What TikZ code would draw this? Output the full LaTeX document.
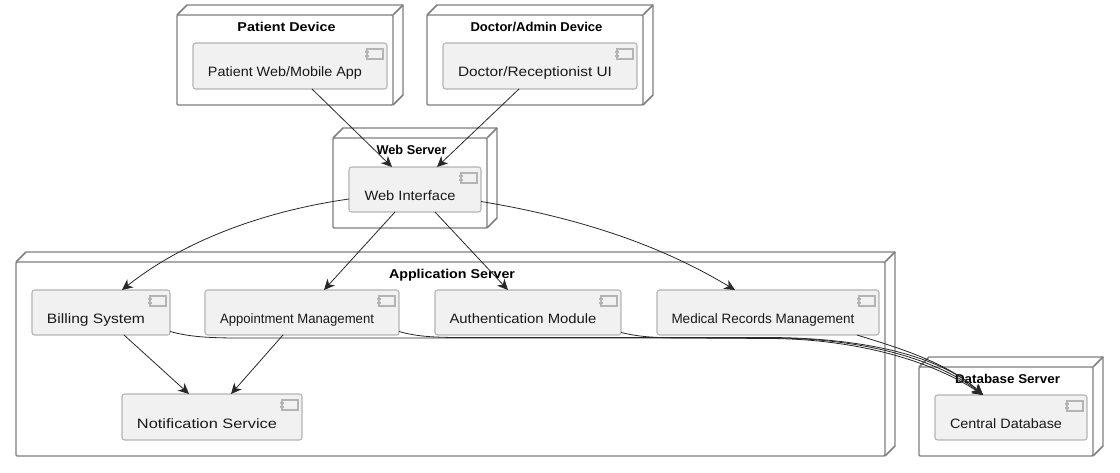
\documentclass[tikz,border=0pt]{standalone}
\usepackage{fontspec}
\setmainfont{Liberation Sans}
\usepackage{xcolor}
\usepackage{tikz}
\usetikzlibrary{calc,arrows.meta}
\definecolor{mfill}{HTML}{F1F1F1}
\definecolor{mline}{HTML}{7F7F7F}
\definecolor{mcomp}{HTML}{B4B4B4}
\definecolor{marrow}{HTML}{282828}
\newdimen\px
\px=.75pt
\tikzset{
    devbox/.style={draw=mline, line width=1.1pt, rounded corners=.8pt, outer sep=0pt, inner sep=0pt},
    devedge/.style={draw=mline, line width=1.1pt, line join=round},
    devtitle/.style={font=\bfseries\fontsize{9.6}{11}\selectfont, anchor=base, inner sep=0pt, text=black},
    compbox/.style={draw=mcomp, fill=mfill, line width=.8pt, rounded corners=2pt, outer sep=0pt, inner sep=0pt},
    complabel/.style={font=\fontsize{10.2}{12}\selectfont, anchor=base, inner sep=0pt, text=black!90},
    conn/.style={draw=marrow, line width=.6pt, -{Stealth[length=8pt,width=7.5pt,inset=2.4pt]}},
}
\newcommand{\devnode}[7]{
    \node[devbox, minimum width={(#4-#2)*.75pt}, minimum height={(#5-#3)*.75pt}] (#1) at ({(#2+#4)/2},{(#3+#5)/2}) {};
    \draw[devedge] (#1.north west) -- ++(10,-10) -- ($(#1.north east)+(10,-10)$) -- ($(#1.south east)+(10,-10)$) -- (#1.south east);
    \draw[devedge] (#1.north east) -- ++(10,-10);
    \node[devtitle] (#1title) at ($(#1.north)+(1.5,17)$) {\resizebox{#7\px}{\height}{#6}};
}
\newcommand{\compnode}[7]{
    \node[compbox, minimum width={(#4-#2)*.75pt}, minimum height={(#5-#3)*.75pt}] (#1) at ({(#2+#4)/2},{(#3+#5)/2}) {};
    \node[complabel] (#1label) at ($(#1.center)+(-5,11)$) {\resizebox{#7\px}{\height}{#6}};
    \draw[mcomp, line width=.9pt, fill=mfill] ($(#1.north east)+(-20,6)$) rectangle ($(#1.north east)+(-4,16)$);
    \foreach \tab in {8,12} {
        \fill[mcomp] ($(#1.north east)+(-22,\tab)$) rectangle ($(#1.north east)+(-18,\tab+2)$);
    }
}
\begin{document}
\begin{tikzpicture}[x=.75pt, y=-.75pt]
    \useasboundingbox[fill=white] (0, 0) rectangle (1120, 473);

    % deployment nodes
    \devnode{patientdev}{177}{15}{393}{105}{Patient Device}{98}
    \devnode{doctordev}{427}{15}{643}{105}{Doctor/Admin Device}{132}
    \devnode{webserver}{333}{138}{487}{228}{Web Server}{70}
    \devnode{appserver}{16}{262}{885}{456}{Application Server}{126}
    \devnode{dbserver}{919}{367}{1093}{456}{Database Server}{105}

    % components
    \compnode{patientapp}{193}{43}{387}{89}{Patient Web/Mobile App}{154}
    \compnode{doctorui}{443}{43}{637}{89}{Doctor/Receptionist UI}{154}
    \compnode{webui}{349}{167}{481}{212}{Web Interface}{91}
    \compnode{billing}{32}{290}{170}{335}{Billing System}{98}
    \compnode{appointment}{205}{290}{399}{335}{Appointment Management}{154}
    \compnode{auth}{435}{290}{621}{335}{Authentication Module}{147}
    \compnode{records}{657}{290}{879}{335}{Medical Records Management}{183}
    \compnode{notify}{122}{394}{302}{440}{Notification Service}{140}
    \compnode{centraldb}{935}{395}{1087}{440}{Central Database}{112}

    % connectors
    \draw[conn] ($(patientapp.south)+(22,0)$) -- ($(webui.north)+(-23,0)$);
    \draw[conn] ($(doctorui.south)+(-21,0)$) -- ($(webui.north)+(22,0)$);
    \draw[conn] ($(webui.west)+(0,9.5)$) .. controls (265,211) and (185,240) .. ($(billing.north)+(21,0)$);
    \draw[conn] ($(webui.south)+(-20,0)$) -- ($(appointment.north)+(22,0)$);
    \draw[conn] ($(webui.south)+(20,0)$) -- ($(auth.north)+(-20,0)$);
    \draw[conn] ($(webui.east)+(0,12)$) .. controls (580,218) and (660,245) .. ($(records.north)+(-33,0)$);
    \draw[conn] ($(billing.south)+(23,0)$) -- ($(notify.north)+(-23,0)$);
    \draw[conn] ($(appointment.south)+(-19,0)$) -- ($(notify.north)+(19,0)$);
    \draw[conn] ($(billing.east)+(0,19)$) .. controls (190,337) and (210,338) .. (240,338) -- (770,338) .. controls (860,338) and (935,358) .. ($(centraldb.north)+(-28,0)$);
    \draw[conn] ($(appointment.east)+(0,19)$) .. controls (415,336) and (430,337.5) .. (460,337.5) -- (770,337.5) .. controls (865,338) and (940,356) .. ($(centraldb.north)+(-28,0)$);
    \draw[conn] ($(auth.east)+(0,20)$) .. controls (640,337) and (655,338) .. (690,338) -- (770,338.5) .. controls (855,339) and (930,360) .. ($(centraldb.north)+(-28,0)$);
    \draw[conn] ($(records.south)+(89,0)$) .. controls (885,344) and (945,360) .. ($(centraldb.north)+(-28,0)$);
\end{tikzpicture}
\end{document}
